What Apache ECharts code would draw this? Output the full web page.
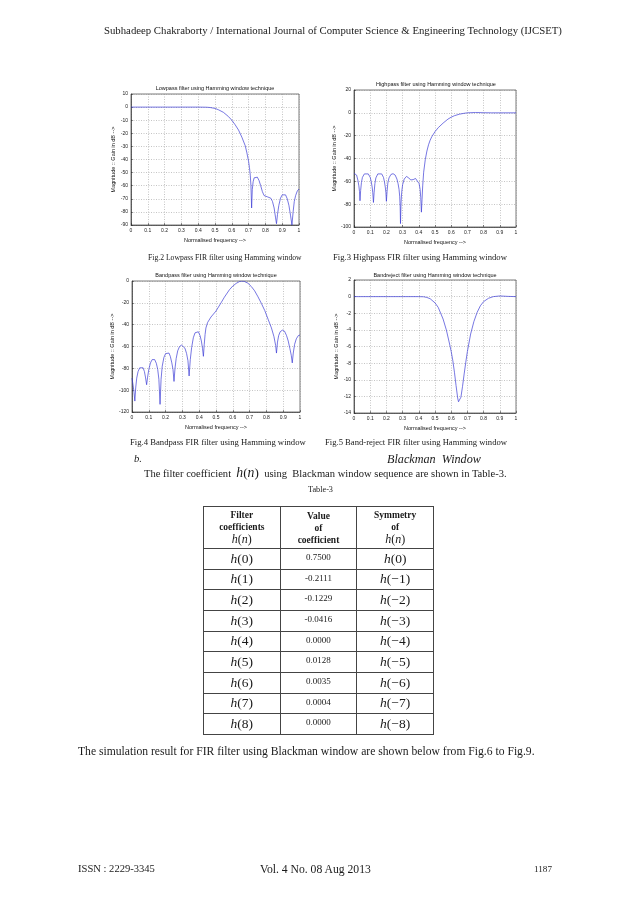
<!DOCTYPE html>
<html><head><meta charset="utf-8">
<script src="https://cdn.jsdelivr.net/npm/echarts@6/dist/echarts.min.js"></script>
<style>
html,body{margin:0;padding:0;background:#fff;}
#page{position:relative;width:638px;height:903px;overflow:hidden;background:#fff;}
#chart{position:absolute;left:0;top:0;width:638px;height:903px;}
.t{position:absolute;white-space:nowrap;font-family:"Liberation Serif","Times New Roman",serif;color:#1a1a1a;line-height:1;z-index:2;}
#tbl{position:absolute;left:203px;top:506px;width:231px;border-collapse:collapse;table-layout:fixed;z-index:2;font-family:"Liberation Serif","Times New Roman",serif;color:#1a1a1a;}
#tbl td{border:1px solid #444;text-align:center;padding:0;overflow:hidden;}
#tbl td.hd{height:41px;font-weight:bold;font-size:9.5px;line-height:12px;vertical-align:middle;}
#tbl td.hd .hn{font-weight:normal;font-size:12px;line-height:12px;}
#tbl td.hc{height:19.67px;font-size:13.5px;line-height:14px;vertical-align:middle;}
#tbl td.vc{height:16.67px;font-size:9px;line-height:10px;vertical-align:top;padding-top:3px;}
i{font-style:italic;}
</style></head>
<body><div id="page"><div id="chart"></div></div>
<script>
// ---------- data ----------
const lowpassTitle = 'Lowpass filter using Hamming window technique';
const highpassTitle = 'Highpass filter using Hamming window technique';
const bandpassTitle = 'Bandpass filter using Hamming window technique';
const bandrejectTitle = 'Bandreject filter using Hamming window technique';
const xAxisName = 'Normalised frequency -->';
const yAxisName = 'Magnitude :: Gain in dB -->';

const lowpassPoints = [[0,0],[0.1,0],[0.2,0],[0.3,0],[0.4,0],[0.45,-0.1],[0.47,-0.3],[0.5,-1],[0.52,-2],[0.55,-4],[0.58,-7.2],[0.6,-10],[0.62,-13.5],[0.64,-17.5],[0.66,-23],[0.68,-29.5],[0.69,-35],[0.7,-41.5],[0.705,-46],[0.71,-52],[0.714,-60],[0.718,-77],[0.722,-63],[0.727,-57],[0.733,-54],[0.742,-53],[0.752,-53.5],[0.762,-56],[0.772,-60],[0.782,-64.5],[0.792,-67.5],[0.802,-68.5],[0.812,-68.5],[0.822,-68.5],[0.832,-69.5],[0.842,-72],[0.852,-77],[0.86,-84],[0.866,-89],[0.872,-82],[0.88,-75],[0.89,-69.5],[0.9,-67],[0.91,-66],[0.92,-67],[0.93,-70],[0.94,-75],[0.95,-83],[0.958,-90],[0.965,-80],[0.972,-72],[0.98,-67.5],[0.99,-64],[1,-62.5]];

const highpassPoints = [[0,-53],[0.008,-52.6],[0.016,-54.5],[0.024,-59],[0.03,-64],[0.034,-69],[0.037,-77],[0.041,-68],[0.046,-61],[0.052,-56.5],[0.064,-53.5],[0.076,-52.7],[0.088,-53.5],[0.1,-56.5],[0.106,-60],[0.112,-65],[0.116,-70],[0.12,-78.5],[0.124,-70],[0.129,-62],[0.135,-57],[0.147,-53.5],[0.159,-52.7],[0.171,-53.5],[0.182,-56.5],[0.188,-60.5],[0.193,-65],[0.197,-70],[0.2,-77.5],[0.204,-69],[0.209,-61.5],[0.216,-57],[0.228,-54],[0.241,-53.3],[0.254,-54.5],[0.265,-58],[0.272,-62],[0.278,-67],[0.282,-73],[0.285,-82],[0.287,-97],[0.29,-80],[0.294,-70],[0.3,-63],[0.31,-58],[0.324,-55.7],[0.338,-57],[0.35,-58.8],[0.365,-58.5],[0.38,-57.5],[0.392,-58.5],[0.402,-62],[0.408,-67],[0.412,-74],[0.416,-87],[0.42,-76],[0.424,-64],[0.43,-52],[0.44,-41],[0.45,-33.5],[0.46,-28],[0.47,-24],[0.48,-21],[0.5,-16.5],[0.52,-13],[0.55,-9],[0.58,-5.5],[0.6,-3.8],[0.62,-2.5],[0.65,-1.2],[0.68,-0.4],[0.7,0],[0.75,0.3],[0.8,0.1],[0.85,0],[0.9,0],[1,0]];

const bandpassPoints = [[0,-89],[0.006,-95],[0.012,-102],[0.017,-110],[0.022,-98],[0.028,-89],[0.036,-83],[0.046,-79.5],[0.056,-78.3],[0.066,-79.5],[0.074,-83],[0.08,-88],[0.087,-95],[0.093,-88],[0.1,-81],[0.11,-75],[0.12,-72],[0.127,-71.3],[0.135,-72],[0.145,-75.5],[0.153,-81],[0.16,-90],[0.167,-113],[0.173,-90],[0.18,-78],[0.19,-70],[0.2,-66.5],[0.21,-65.3],[0.22,-66],[0.228,-69],[0.237,-75],[0.244,-81],[0.25,-92],[0.256,-80],[0.263,-71],[0.272,-64],[0.283,-60],[0.295,-58.7],[0.305,-59],[0.315,-61.5],[0.325,-66.5],[0.333,-73],[0.34,-87],[0.347,-72],[0.355,-61],[0.365,-52],[0.375,-47.5],[0.385,-45.8],[0.395,-46.5],[0.405,-50],[0.413,-55],[0.42,-62],[0.425,-69],[0.43,-58],[0.435,-49],[0.44,-43],[0.45,-38],[0.47,-33],[0.5,-27.5],[0.53,-20],[0.55,-14.8],[0.58,-8],[0.6,-4.6],[0.62,-2.2],[0.64,-0.5],[0.655,0],[0.67,-0.5],[0.69,-2],[0.71,-5],[0.73,-9],[0.75,-14.5],[0.77,-20.5],[0.79,-27],[0.81,-35],[0.83,-43],[0.845,-51],[0.855,-59],[0.86,-66],[0.866,-56],[0.873,-50],[0.882,-46.5],[0.895,-45],[0.908,-46],[0.92,-50],[0.93,-55],[0.94,-62],[0.948,-68],[0.954,-75],[0.96,-66],[0.968,-58],[0.978,-53],[0.99,-50],[1,-49.5]];

const bandrejectPoints = [[0,0],[0.1,0],[0.2,0],[0.3,0],[0.4,0],[0.43,-0.02],[0.45,-0.1],[0.47,-0.25],[0.5,-0.75],[0.52,-1.3],[0.55,-2.7],[0.57,-4],[0.59,-5.7],[0.6,-6.6],[0.61,-7.7],[0.62,-9.1],[0.63,-10.7],[0.64,-12.2],[0.645,-12.65],[0.65,-12.75],[0.655,-12.55],[0.66,-12.1],[0.67,-10.8],[0.68,-9.3],[0.69,-7.9],[0.7,-6.6],[0.72,-4.5],[0.74,-3],[0.76,-1.9],[0.78,-1.1],[0.8,-0.6],[0.83,-0.2],[0.86,0],[0.9,0.08],[0.95,0.03],[1,0]];

const lowpassY = [-90, 10, 10];     // min, max, step
const highpassY = [-100, 20, 20];
const bandpassY = [-120, 0, 20];
const bandrejectY = [-14, 2, 2];

const headerText = 'Subhadeep Chakraborty / International Journal of Computer Science &amp; Engineering Technology (IJCSET)';
const captions = ['Fig.2 Lowpass FIR filter using Hamming window','Fig.3 Highpass FIR filter using Hamming window','Fig.4 Bandpass FIR filter using Hamming window','Fig.5 Band-reject FIR filter using Hamming window'];
const coefIndex = [0,1,2,3,4,5,6,7,8];
const coefValues = ['0.7500','-0.2111','-0.1229','-0.0416','0.0000','0.0128','0.0035','0.0004','0.0000'];

// ---------- charts ----------
const charts = [
  {title: lowpassTitle, data: lowpassPoints, y: lowpassY, grid:{left:131,top:94,width:168,height:131}, tx:215, ty:85, ng:13},
  {title: highpassTitle, data: highpassPoints, y: highpassY, grid:{left:354,top:90,width:162,height:137}, tx:436, ty:81, ng:13},
  {title: bandpassTitle, data: bandpassPoints, y: bandpassY, grid:{left:132,top:281,width:168,height:131}, tx:216, ty:272, ng:15},
  {title: bandrejectTitle, data: bandrejectPoints, y: bandrejectY, grid:{left:354,top:280,width:162,height:133}, tx:435, ty:272, ng:13}
];
const axisFont = 'Liberation Sans, Arial, sans-serif';
const chart = echarts.init(document.getElementById('chart'), null, {renderer:'canvas'});
chart.setOption({
  animation:false,
  title: charts.map(c => ({text:c.title, left:c.tx, top:c.ty, textAlign:'center', padding:0,
    textStyle:{fontSize:5.5, fontWeight:'normal', color:'#111', fontFamily:axisFont}})),
  grid: charts.map(c => Object.assign({show:true, borderColor:'#222', borderWidth:0.6, backgroundColor:'#fff'}, c.grid)),
  xAxis: charts.map((c,i) => ({type:'value', gridIndex:i, min:0, max:1, interval:0.1,
    name:xAxisName, nameLocation:'middle', nameGap:12,
    nameTextStyle:{fontSize:5.5, color:'#111', fontFamily:axisFont},
    axisLine:{show:true, onZero:false, lineStyle:{color:'#222', width:0.6}},
    axisTick:{show:true, inside:true, length:2, lineStyle:{color:'#222', width:0.5}},
    axisLabel:{fontSize:5, margin:3, color:'#222', fontFamily:axisFont},
    splitLine:{show:true, lineStyle:{color:'#8a8a8a', width:0.5, type:[1,1.5]}}})),
  yAxis: charts.map((c,i) => ({type:'value', gridIndex:i, min:c.y[0], max:c.y[1], interval:c.y[2],
    name:yAxisName, nameLocation:'middle', nameGap:c.ng, nameRotate:90,
    nameTextStyle:{fontSize:5.5, color:'#111', fontFamily:axisFont},
    axisLine:{show:true, onZero:false, lineStyle:{color:'#222', width:0.6}},
    axisTick:{show:true, inside:true, length:2, lineStyle:{color:'#222', width:0.5}},
    axisLabel:{fontSize:5, margin:3, color:'#222', fontFamily:axisFont},
    splitLine:{show:true, lineStyle:{color:'#8a8a8a', width:0.5, type:[1,1.5]}}})),
  series: charts.map((c,i) => ({type:'line', xAxisIndex:i, yAxisIndex:i, data:c.data, showSymbol:false, symbol:'none',
    silent:true, clip:true, lineStyle:{color:'#3c3cd6', width:0.7}}))
});

// ---------- text ----------
const page = document.getElementById('page');
function place(html, x0, x1, yc, style) {
  const d = document.createElement('div');
  d.className = 't'; d.innerHTML = html; d.style.fontSize = '20px';
  if (style) Object.assign(d.style, style);
  page.appendChild(d);
  const w = d.getBoundingClientRect().width;
  const fs = 20 * (x1 - x0) / w;
  d.style.fontSize = fs + 'px';
  d.style.left = x0 + 'px';
  d.style.top = (yc - fs * 0.55) + 'px';
  return d;
}
place(headerText, 104, 562, 31);
place(captions[0], 148, 302, 258);
place(captions[1], 333, 507, 258);
place(captions[2], 130, 306, 443);
place(captions[3], 325, 507, 443);
place('b.', 134, 142, 460, {fontStyle:'italic'});
place('Blackman&nbsp; Window', 387, 481, 460, {fontStyle:'italic'});
place('The filter coefficient&nbsp; <i style="font-size:1.3em">h</i><span style="font-size:1.25em">(</span><i style="font-size:1.3em">n</i><span style="font-size:1.25em">)</span>&nbsp; using&nbsp; Blackman window sequence are shown in Table-3.', 144, 507, 472);
place('Table-3', 308, 333, 491);
place('The simulation result for FIR filter using Blackman window are shown below from Fig.6 to Fig.9.', 78, 535, 752);
place('ISSN : 2229-3345', 78, 155, 870);
place('Vol. 4 No. 08 Aug 2013', 260, 371, 870);
place('1187', 534, 552, 870);

// ---------- table ----------
const hn = '<span class="hn"><i>h</i>(<i>n</i>)</span>';
let rows = '<tr><td class="hd">Filter<br>coefficients<br>' + hn + '</td><td class="hd">Value<br>of<br>coefficient</td><td class="hd">Symmetry<br>of<br>' + hn + '</td></tr>';
coefIndex.forEach((k, j) => {
  const sym = k === 0 ? '0' : '\u2212' + k;
  rows += '<tr><td class="hc"><i>h</i>(' + k + ')</td><td class="vc">' + coefValues[j] + '</td><td class="hc"><i>h</i>(' + sym + ')</td></tr>';
});
const tbl = document.createElement('table'); tbl.id = 'tbl'; tbl.innerHTML = rows; page.appendChild(tbl);
</script></body></html>
